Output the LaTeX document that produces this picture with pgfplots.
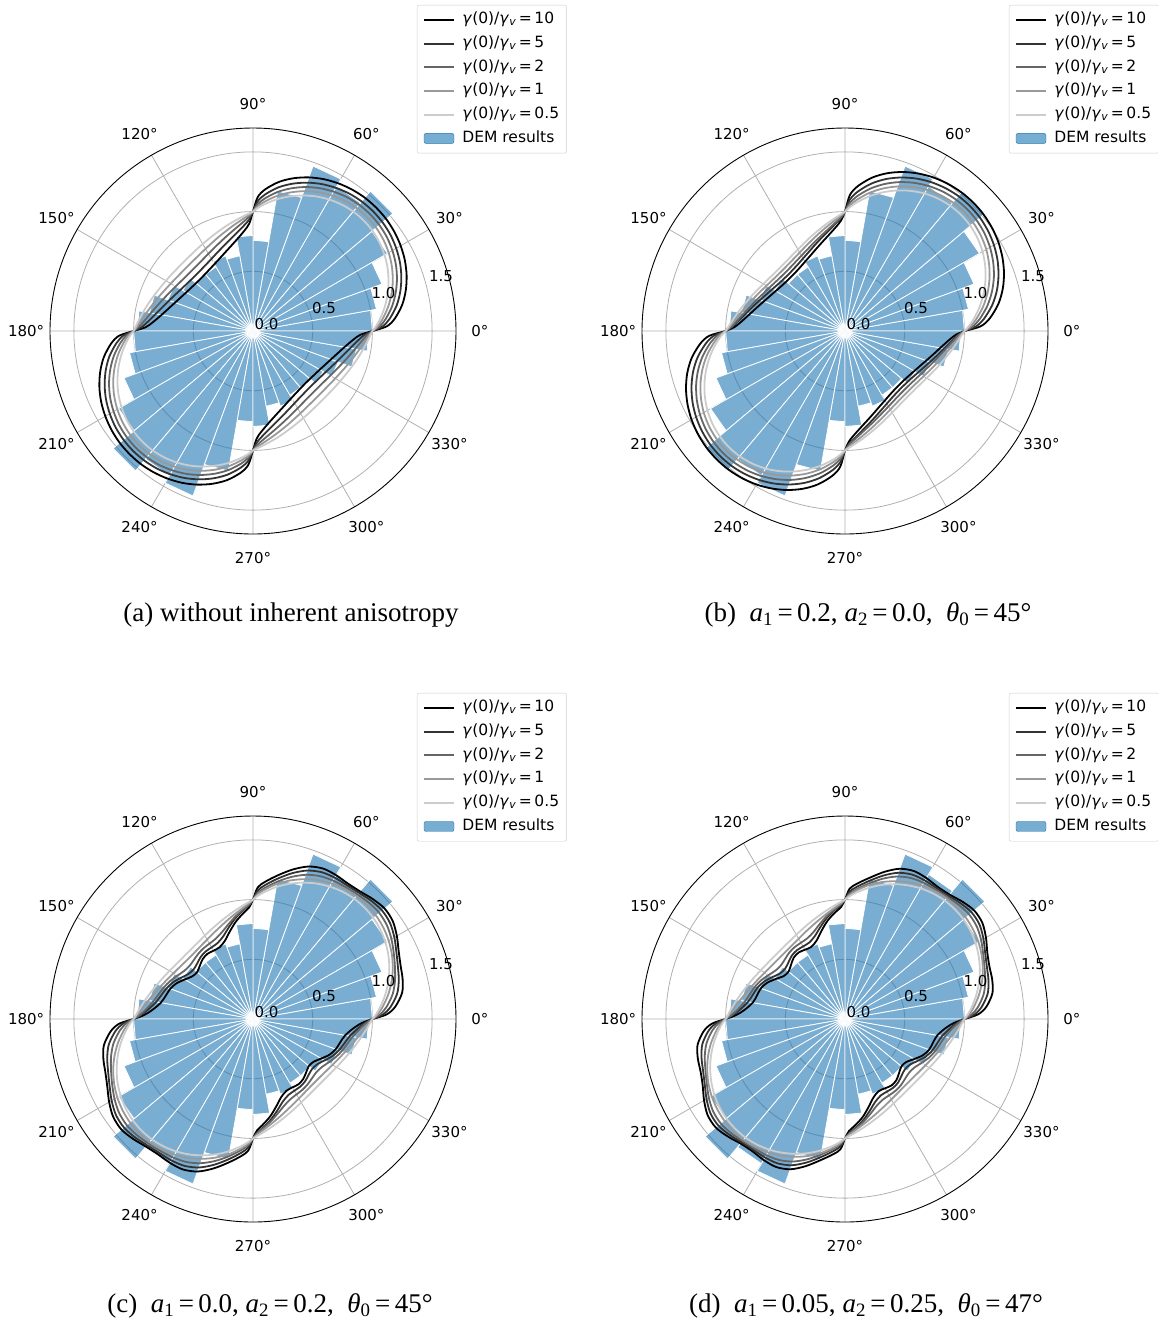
\documentclass[border=0pt]{standalone}
\usepackage{fontspec}
\setmainfont{DejaVu Sans}
\newfontfamily\capfont{Liberation Serif}
\usepackage{pgfplots}
\pgfplotsset{compat=1.18}
\usepackage{pgfplotstable}
\usepgfplotslibrary{polar}

\definecolor{c0}{HTML}{1F77B4}
\definecolor{gridc}{HTML}{B0B0B0}
\newcommand\tf{\fontsize{15}{18}\selectfont}
\newcommand\lf{\fontsize{15.5}{18}\selectfont}
\newcommand\gv[1]{\textit{γ}(0)/\textit{γ}\textsubscript{\textit{v}}\,=\,#1}

% ---------- model curves, (a) ----------
\pgfplotstableread{
t c10 c5 c2 c1 c05
0 1 1 1 1 1
2 1.121 1.085 1.060 1.042 1.028
5 1.192 1.147 1.113 1.086 1.064
10 1.269 1.221 1.182 1.148 1.118
15 1.325 1.277 1.237 1.201 1.166
20 1.369 1.322 1.283 1.246 1.208
25 1.403 1.358 1.320 1.283 1.244
30 1.428 1.385 1.348 1.312 1.272
35 1.446 1.405 1.369 1.333 1.293
40 1.457 1.416 1.381 1.346 1.306
45 1.460 1.420 1.385 1.350 1.310
50 1.457 1.416 1.381 1.346 1.306
55 1.446 1.405 1.369 1.333 1.293
60 1.428 1.385 1.348 1.312 1.272
65 1.403 1.358 1.320 1.283 1.244
70 1.369 1.322 1.283 1.246 1.208
75 1.325 1.277 1.237 1.201 1.166
80 1.269 1.221 1.182 1.148 1.118
85 1.192 1.147 1.113 1.086 1.064
88 1.121 1.085 1.060 1.042 1.028
90 1 1 1 1 1
92 0.900 0.933 0.957 0.973 0.984
95 0.842 0.885 0.918 0.943 0.963
100 0.778 0.827 0.868 0.903 0.932
105 0.731 0.782 0.828 0.868 0.904
110 0.695 0.747 0.795 0.839 0.879
115 0.667 0.719 0.768 0.814 0.858
120 0.646 0.697 0.747 0.795 0.842
125 0.632 0.682 0.732 0.781 0.830
130 0.623 0.673 0.723 0.773 0.822
135 0.620 0.670 0.720 0.770 0.820
140 0.623 0.673 0.723 0.773 0.822
145 0.632 0.682 0.732 0.781 0.830
150 0.646 0.697 0.747 0.795 0.842
155 0.667 0.719 0.768 0.814 0.858
160 0.695 0.747 0.795 0.839 0.879
165 0.731 0.782 0.828 0.868 0.904
170 0.778 0.827 0.868 0.903 0.932
175 0.842 0.885 0.918 0.943 0.963
178 0.900 0.933 0.957 0.973 0.984
180 1 1 1 1 1
182 1.121 1.085 1.060 1.042 1.028
185 1.192 1.147 1.113 1.086 1.064
190 1.269 1.221 1.182 1.148 1.118
195 1.325 1.277 1.237 1.201 1.166
200 1.369 1.322 1.283 1.246 1.208
205 1.403 1.358 1.320 1.283 1.244
210 1.428 1.385 1.348 1.312 1.272
215 1.446 1.405 1.369 1.333 1.293
220 1.457 1.416 1.381 1.346 1.306
225 1.460 1.420 1.385 1.350 1.310
230 1.457 1.416 1.381 1.346 1.306
235 1.446 1.405 1.369 1.333 1.293
240 1.428 1.385 1.348 1.312 1.272
245 1.403 1.358 1.320 1.283 1.244
250 1.369 1.322 1.283 1.246 1.208
255 1.325 1.277 1.237 1.201 1.166
260 1.269 1.221 1.182 1.148 1.118
265 1.192 1.147 1.113 1.086 1.064
268 1.121 1.085 1.060 1.042 1.028
270 1 1 1 1 1
272 0.900 0.933 0.957 0.973 0.984
275 0.842 0.885 0.918 0.943 0.963
280 0.778 0.827 0.868 0.903 0.932
285 0.731 0.782 0.828 0.868 0.904
290 0.695 0.747 0.795 0.839 0.879
295 0.667 0.719 0.768 0.814 0.858
300 0.646 0.697 0.747 0.795 0.842
305 0.632 0.682 0.732 0.781 0.830
310 0.623 0.673 0.723 0.773 0.822
315 0.620 0.670 0.720 0.770 0.820
320 0.623 0.673 0.723 0.773 0.822
325 0.632 0.682 0.732 0.781 0.830
330 0.646 0.697 0.747 0.795 0.842
335 0.667 0.719 0.768 0.814 0.858
340 0.695 0.747 0.795 0.839 0.879
345 0.731 0.782 0.828 0.868 0.904
350 0.778 0.827 0.868 0.903 0.932
355 0.842 0.885 0.918 0.943 0.963
358 0.900 0.933 0.957 0.973 0.984
360 1 1 1 1 1
}\tabA

% ---------- model curves, (b) ----------
\pgfplotstableread{
t c10 c5 c2 c1 c05
0 1 1 1 1 1
2 1.137 1.097 1.069 1.049 1.034
5 1.217 1.168 1.131 1.101 1.078
10 1.304 1.252 1.210 1.174 1.143
15 1.368 1.317 1.274 1.236 1.201
20 1.417 1.368 1.327 1.288 1.252
25 1.455 1.409 1.369 1.331 1.295
30 1.484 1.440 1.402 1.366 1.330
35 1.504 1.462 1.426 1.390 1.355
40 1.516 1.476 1.440 1.405 1.370
45 1.520 1.480 1.445 1.410 1.375
50 1.516 1.476 1.440 1.405 1.370
55 1.504 1.462 1.426 1.390 1.355
60 1.484 1.440 1.402 1.366 1.330
65 1.455 1.409 1.369 1.331 1.295
70 1.417 1.368 1.327 1.288 1.252
75 1.368 1.317 1.274 1.236 1.201
80 1.304 1.252 1.210 1.174 1.143
85 1.217 1.168 1.131 1.101 1.078
88 1.137 1.097 1.069 1.049 1.034
90 1 1 1 1 1
92 0.927 0.949 0.953 0.968 0.978
95 0.874 0.903 0.912 0.934 0.950
100 0.811 0.844 0.858 0.886 0.909
105 0.763 0.797 0.815 0.845 0.871
110 0.724 0.758 0.780 0.810 0.839
115 0.693 0.726 0.751 0.782 0.811
120 0.670 0.702 0.729 0.759 0.789
125 0.653 0.684 0.713 0.743 0.773
130 0.643 0.674 0.703 0.733 0.763
135 0.640 0.670 0.700 0.730 0.760
140 0.643 0.674 0.703 0.733 0.763
145 0.653 0.684 0.713 0.743 0.773
150 0.670 0.702 0.729 0.759 0.789
155 0.693 0.726 0.751 0.782 0.811
160 0.724 0.758 0.780 0.810 0.839
165 0.763 0.797 0.815 0.845 0.871
170 0.811 0.844 0.858 0.886 0.909
175 0.874 0.903 0.912 0.934 0.950
178 0.927 0.949 0.953 0.968 0.978
180 1 1 1 1 1
182 1.137 1.097 1.069 1.049 1.034
185 1.217 1.168 1.131 1.101 1.078
190 1.304 1.252 1.210 1.174 1.143
195 1.368 1.317 1.274 1.236 1.201
200 1.417 1.368 1.327 1.288 1.252
205 1.455 1.409 1.369 1.331 1.295
210 1.484 1.440 1.402 1.366 1.330
215 1.504 1.462 1.426 1.390 1.355
220 1.516 1.476 1.440 1.405 1.370
225 1.520 1.480 1.445 1.410 1.375
230 1.516 1.476 1.440 1.405 1.370
235 1.504 1.462 1.426 1.390 1.355
240 1.484 1.440 1.402 1.366 1.330
245 1.455 1.409 1.369 1.331 1.295
250 1.417 1.368 1.327 1.288 1.252
255 1.368 1.317 1.274 1.236 1.201
260 1.304 1.252 1.210 1.174 1.143
265 1.217 1.168 1.131 1.101 1.078
268 1.137 1.097 1.069 1.049 1.034
270 1 1 1 1 1
272 0.927 0.949 0.953 0.968 0.978
275 0.874 0.903 0.912 0.934 0.950
280 0.811 0.844 0.858 0.886 0.909
285 0.763 0.797 0.815 0.845 0.871
290 0.724 0.758 0.780 0.810 0.839
295 0.693 0.726 0.751 0.782 0.811
300 0.670 0.702 0.729 0.759 0.789
305 0.653 0.684 0.713 0.743 0.773
310 0.643 0.674 0.703 0.733 0.763
315 0.640 0.670 0.700 0.730 0.760
320 0.643 0.674 0.703 0.733 0.763
325 0.653 0.684 0.713 0.743 0.773
330 0.670 0.702 0.729 0.759 0.789
335 0.693 0.726 0.751 0.782 0.811
340 0.724 0.758 0.780 0.810 0.839
345 0.763 0.797 0.815 0.845 0.871
350 0.811 0.844 0.858 0.886 0.909
355 0.874 0.903 0.912 0.934 0.950
358 0.927 0.949 0.953 0.968 0.978
360 1 1 1 1 1
}\tabB

% ---------- model curves, (c) ----------
\pgfplotstableread{
t c10 c5 c2 c1 c05
0 1 1 1 1 1
2 1.121 1.088 1.063 1.042 1.029
5 1.197 1.156 1.120 1.086 1.066
10 1.268 1.226 1.187 1.148 1.122
15 1.297 1.264 1.231 1.201 1.172
20 1.315 1.291 1.265 1.246 1.215
25 1.346 1.325 1.301 1.283 1.252
30 1.391 1.367 1.339 1.312 1.281
35 1.429 1.401 1.369 1.333 1.303
40 1.439 1.412 1.381 1.346 1.316
45 1.420 1.400 1.375 1.350 1.320
50 1.395 1.380 1.361 1.346 1.316
55 1.385 1.369 1.349 1.333 1.303
60 1.391 1.367 1.339 1.312 1.281
65 1.390 1.357 1.321 1.283 1.252
70 1.359 1.323 1.285 1.246 1.215
75 1.297 1.264 1.231 1.201 1.172
80 1.224 1.194 1.167 1.148 1.122
85 1.153 1.124 1.100 1.086 1.066
88 1.101 1.074 1.053 1.042 1.029
90 1 1 1 1 1
92 0.935 0.954 0.958 0.969 0.980
95 0.893 0.916 0.922 0.936 0.955
100 0.828 0.856 0.868 0.890 0.916
105 0.756 0.791 0.815 0.851 0.882
110 0.694 0.734 0.770 0.817 0.852
115 0.663 0.702 0.741 0.790 0.827
120 0.661 0.693 0.729 0.768 0.807
125 0.666 0.691 0.723 0.753 0.792
130 0.655 0.680 0.713 0.743 0.783
135 0.630 0.660 0.700 0.740 0.780
140 0.611 0.648 0.693 0.743 0.783
145 0.622 0.659 0.703 0.753 0.792
150 0.661 0.693 0.729 0.768 0.807
155 0.707 0.734 0.761 0.790 0.827
160 0.738 0.766 0.790 0.817 0.852
165 0.756 0.791 0.815 0.851 0.882
170 0.784 0.824 0.848 0.890 0.916
175 0.849 0.884 0.902 0.936 0.955
178 0.915 0.940 0.948 0.969 0.980
180 1 1 1 1 1
182 1.121 1.088 1.063 1.042 1.029
185 1.197 1.156 1.120 1.086 1.066
190 1.268 1.226 1.187 1.148 1.122
195 1.297 1.264 1.231 1.201 1.172
200 1.315 1.291 1.265 1.246 1.215
205 1.346 1.325 1.301 1.283 1.252
210 1.391 1.367 1.339 1.312 1.281
215 1.429 1.401 1.369 1.333 1.303
220 1.439 1.412 1.381 1.346 1.316
225 1.420 1.400 1.375 1.350 1.320
230 1.395 1.380 1.361 1.346 1.316
235 1.385 1.369 1.349 1.333 1.303
240 1.391 1.367 1.339 1.312 1.281
245 1.390 1.357 1.321 1.283 1.252
250 1.359 1.323 1.285 1.246 1.215
255 1.297 1.264 1.231 1.201 1.172
260 1.224 1.194 1.167 1.148 1.122
265 1.153 1.124 1.100 1.086 1.066
268 1.101 1.074 1.053 1.042 1.029
270 1 1 1 1 1
272 0.935 0.954 0.958 0.969 0.980
275 0.893 0.916 0.922 0.936 0.955
280 0.828 0.856 0.868 0.890 0.916
285 0.756 0.791 0.815 0.851 0.882
290 0.694 0.734 0.770 0.817 0.852
295 0.663 0.702 0.741 0.790 0.827
300 0.661 0.693 0.729 0.768 0.807
305 0.666 0.691 0.723 0.753 0.792
310 0.655 0.680 0.713 0.743 0.783
315 0.630 0.660 0.700 0.740 0.780
320 0.611 0.648 0.693 0.743 0.783
325 0.622 0.659 0.703 0.753 0.792
330 0.661 0.693 0.729 0.768 0.807
335 0.707 0.734 0.761 0.790 0.827
340 0.738 0.766 0.790 0.817 0.852
345 0.756 0.791 0.815 0.851 0.882
350 0.784 0.824 0.848 0.890 0.916
355 0.849 0.884 0.902 0.936 0.955
358 0.915 0.940 0.948 0.969 0.980
360 1 1 1 1 1
}\tabC

% ---------- model curves, (d) ----------
\pgfplotstableread{
t c10 c5 c2 c1 c05
0 1 1 1 1 1
2 1.115 1.084 1.060 1.039 1.027
5 1.189 1.148 1.116 1.080 1.062
10 1.254 1.213 1.178 1.138 1.114
15 1.276 1.244 1.216 1.187 1.161
20 1.287 1.265 1.244 1.228 1.202
25 1.315 1.296 1.277 1.263 1.236
30 1.363 1.339 1.317 1.290 1.264
35 1.404 1.376 1.348 1.309 1.284
40 1.413 1.386 1.359 1.321 1.296
45 1.390 1.370 1.350 1.325 1.300
50 1.361 1.348 1.333 1.321 1.296
55 1.352 1.338 1.322 1.309 1.284
60 1.363 1.339 1.317 1.290 1.264
65 1.367 1.334 1.303 1.263 1.236
70 1.339 1.303 1.270 1.228 1.202
75 1.276 1.244 1.216 1.187 1.161
80 1.202 1.175 1.152 1.138 1.114
85 1.137 1.110 1.090 1.080 1.062
88 1.091 1.066 1.048 1.039 1.027
90 1 1 1 1 1
92 0.939 0.958 0.961 0.970 0.981
95 0.900 0.922 0.928 0.938 0.957
100 0.837 0.863 0.876 0.894 0.920
105 0.763 0.797 0.822 0.856 0.887
110 0.698 0.739 0.774 0.824 0.859
115 0.667 0.707 0.746 0.798 0.835
120 0.670 0.702 0.738 0.777 0.815
125 0.679 0.703 0.735 0.762 0.801
130 0.669 0.693 0.726 0.753 0.793
135 0.640 0.670 0.710 0.750 0.790
140 0.617 0.655 0.700 0.753 0.793
145 0.627 0.665 0.709 0.762 0.801
150 0.670 0.702 0.738 0.777 0.815
155 0.719 0.745 0.772 0.798 0.835
160 0.750 0.777 0.800 0.824 0.859
165 0.763 0.797 0.822 0.856 0.887
170 0.785 0.825 0.850 0.894 0.920
175 0.848 0.884 0.902 0.938 0.957
178 0.915 0.940 0.949 0.970 0.981
180 1 1 1 1 1
182 1.115 1.084 1.060 1.039 1.027
185 1.189 1.148 1.116 1.080 1.062
190 1.254 1.213 1.178 1.138 1.114
195 1.276 1.244 1.216 1.187 1.161
200 1.287 1.265 1.244 1.228 1.202
205 1.315 1.296 1.277 1.263 1.236
210 1.363 1.339 1.317 1.290 1.264
215 1.404 1.376 1.348 1.309 1.284
220 1.413 1.386 1.359 1.321 1.296
225 1.390 1.370 1.350 1.325 1.300
230 1.361 1.348 1.333 1.321 1.296
235 1.352 1.338 1.322 1.309 1.284
240 1.363 1.339 1.317 1.290 1.264
245 1.367 1.334 1.303 1.263 1.236
250 1.339 1.303 1.270 1.228 1.202
255 1.276 1.244 1.216 1.187 1.161
260 1.202 1.175 1.152 1.138 1.114
265 1.137 1.110 1.090 1.080 1.062
268 1.091 1.066 1.048 1.039 1.027
270 1 1 1 1 1
272 0.939 0.958 0.961 0.970 0.981
275 0.900 0.922 0.928 0.938 0.957
280 0.837 0.863 0.876 0.894 0.920
285 0.763 0.797 0.822 0.856 0.887
290 0.698 0.739 0.774 0.824 0.859
295 0.667 0.707 0.746 0.798 0.835
300 0.670 0.702 0.738 0.777 0.815
305 0.679 0.703 0.735 0.762 0.801
310 0.669 0.693 0.726 0.753 0.793
315 0.640 0.670 0.710 0.750 0.790
320 0.617 0.655 0.700 0.753 0.793
325 0.627 0.665 0.709 0.762 0.801
330 0.670 0.702 0.738 0.777 0.815
335 0.719 0.745 0.772 0.798 0.835
340 0.750 0.777 0.800 0.824 0.859
345 0.763 0.797 0.822 0.856 0.887
350 0.785 0.825 0.850 0.894 0.920
355 0.848 0.884 0.902 0.938 0.957
358 0.915 0.940 0.949 0.970 0.981
360 1 1 1 1 1
}\tabD

\pgfplotsset{
  barst/.style={fill=c0, fill opacity=0.6, draw=white, line width=0.8pt, forget plot},
  curve/.style={line width=1.8pt, smooth, no markers},
  rose/.style={
    scale only axis, width=406pt, height=406pt, anchor=center,
    xmin=0, xmax=360, ymin=0, ymax=1.7,
    xtick={0,30,...,330}, ytick={0.5,1,1.5},
    xticklabels={}, yticklabels={},
    grid=major, major grid style={draw=gridc, line width=0.8pt},
    axis line style={line width=0.9pt, black},
    y axis line style={draw=none},
    major tick length=0pt, clip=false,
    legend style={at={(1.273,1.303)}, anchor=north east, draw=black!20,
      rounded corners=2pt, fill=white, font=\lf, row sep=6.2pt,
      column sep=6pt, inner xsep=6pt, inner ysep=6pt,
      nodes={inner sep=1.5pt, text height=11pt, text depth=3.5pt}},
    legend cell align=left,
    legend image code/.code={\draw[##1, line width=1.8pt] (0pt,0pt) -- (30pt,0pt);},
  },
}

% one filled sector per 10-degree bin of the DEM rose diagram
\newcommand\Bar[3]{\addplot[barst] coordinates {(#1,0) (#1,#3) (#2,#3) (#2,0)} --cycle;}
\newcommand\DEMbars{%
\Bar{0}{10}{1.00}\Bar{10}{20}{1.05}\Bar{20}{30}{1.15}\Bar{30}{40}{1.30}%
\Bar{40}{50}{1.53}\Bar{50}{60}{1.40}\Bar{60}{70}{1.47}\Bar{70}{80}{1.19}%
\Bar{80}{90}{0.76}\Bar{90}{100}{0.80}\Bar{100}{110}{0.64}\Bar{110}{120}{0.67}%
\Bar{120}{130}{0.62}\Bar{130}{140}{0.62}\Bar{140}{150}{0.68}\Bar{150}{160}{0.76}%
\Bar{160}{170}{0.88}\Bar{170}{180}{0.97}%
\Bar{180}{190}{1.00}\Bar{190}{200}{1.05}\Bar{200}{210}{1.15}\Bar{210}{220}{1.30}%
\Bar{220}{230}{1.53}\Bar{230}{240}{1.40}\Bar{240}{250}{1.47}\Bar{250}{260}{1.19}%
\Bar{260}{270}{0.76}\Bar{270}{280}{0.80}\Bar{280}{290}{0.64}\Bar{290}{300}{0.67}%
\Bar{300}{310}{0.62}\Bar{310}{320}{0.62}\Bar{320}{330}{0.68}\Bar{330}{340}{0.76}%
\Bar{340}{350}{0.88}\Bar{350}{360}{0.97}%
}
\newcommand\Curves[1]{%
  \addplot[curve, black] table[x=t,y=c10]{#1}; \addlegendentry{\gv{10}}
  \addplot[curve, black!80] table[x=t,y=c5]{#1}; \addlegendentry{\gv{5}}
  \addplot[curve, black!60] table[x=t,y=c2]{#1}; \addlegendentry{\gv{2}}
  \addplot[curve, black!40] table[x=t,y=c1]{#1}; \addlegendentry{\gv{1}}
  \addplot[curve, black!20] table[x=t,y=c05]{#1}; \addlegendentry{\gv{0.5}}
  \addlegendimage{legend image code/.code={\fill[c0, fill opacity=0.6] (0pt,-5pt) rectangle (30pt,5pt);}}
  \addlegendentry{DEM results}
}
\newcommand\Labels{%
  \pgfplotsinvokeforeach{0,30,...,330}{\node[font=\tf] at (axis cs:##1,1.9) {##1°};}
  \node[font=\tf] at (axis cs:26.6,0.126) {0.0};
  \node[font=\tf] at (axis cs:17.8,0.624) {0.5};
  \node[font=\tf] at (axis cs:16.2,1.138) {1.0};
  \node[font=\tf] at (axis cs:16.2,1.64) {1.5};
}

\begin{document}
\begin{tikzpicture}
\path[use as bounding box] (0pt,0pt) rectangle (1158pt,-1333pt);

\begin{polaraxis}[rose, at={(253pt,-331pt)}]
\DEMbars
\Curves{\tabA}
\Labels
\end{polaraxis}

\begin{polaraxis}[rose, at={(845pt,-331pt)}]
\DEMbars
\Curves{\tabB}
\Labels
\end{polaraxis}

\begin{polaraxis}[rose, at={(253pt,-1019pt)}]
\DEMbars
\Curves{\tabC}
\Labels
\end{polaraxis}

\begin{polaraxis}[rose, at={(845pt,-1019pt)}]
\DEMbars
\Curves{\tabD}
\Labels
\end{polaraxis}

\begin{scope}[every node/.style={font=\capfont\fontsize{27}{32}\selectfont}]
\node at (291pt,-615pt) {(a) without inherent anisotropy};
\node at (868pt,-615pt) {(b)\ \ \textit{a}\textsubscript{1}\,=\,0.2, \textit{a}\textsubscript{2}\,=\,0.0, \ \textit{θ}\textsubscript{0}\,=\,45°};
\node at (270pt,-1306pt) {(c)\ \ \textit{a}\textsubscript{1}\,=\,0.0, \textit{a}\textsubscript{2}\,=\,0.2, \ \textit{θ}\textsubscript{0}\,=\,45°};
\node at (866pt,-1306pt) {(d)\ \ \textit{a}\textsubscript{1}\,=\,0.05, \textit{a}\textsubscript{2}\,=\,0.25, \ \textit{θ}\textsubscript{0}\,=\,47°};
\end{scope}
\end{tikzpicture}
\end{document}
